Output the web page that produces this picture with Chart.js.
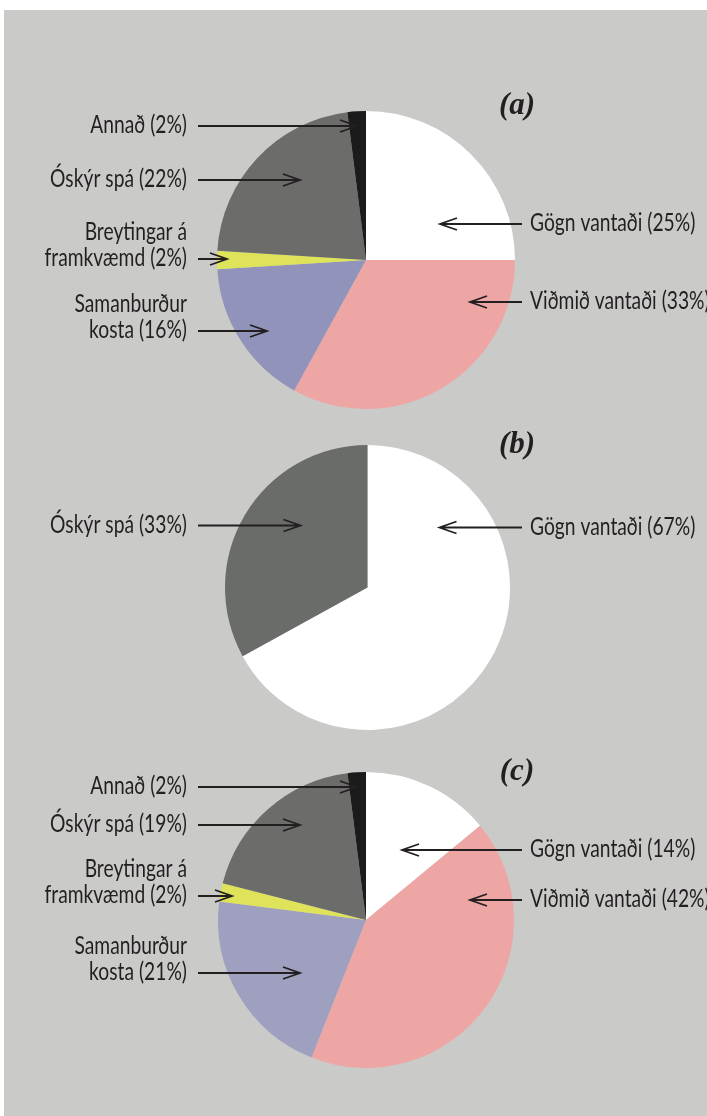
<!DOCTYPE html>
<html>
<head>
<meta charset="utf-8">
<script src="https://cdn.jsdelivr.net/npm/chart.js@4"></script>
<style>
  html, body { margin: 0; padding: 0; background: #fff; }
  body { width: 707px; height: 1116px; position: relative; overflow: hidden; }
  .bg { position: absolute; left: 4px; top: 10px; right: 0; bottom: 0; background: #cacac8; }
  canvas { position: absolute; left: 0; top: 0; }
</style>
</head>
<body>
<div class="bg"></div>
<canvas id="pieA" width="707" height="1116"></canvas>
<canvas id="pieB" width="707" height="1116"></canvas>
<canvas id="pieC" width="707" height="1116"></canvas>
<script>
// data
const labelsA = ['Gögn vantaði', 'Viðmið vantaði', 'Samanburður\nkosta', 'Breytingar á\nframkvæmd', 'Óskýr spá', 'Annað'];
const valuesA = [25, 33, 16, 2, 22, 2];
const labelsB = ['Gögn vantaði', 'Óskýr spá'];
const valuesB = [67, 33];
const labelsC = ['Gögn vantaði', 'Viðmið vantaði', 'Samanburður\nkosta', 'Breytingar á\nframkvæmd', 'Óskýr spá', 'Annað'];
const valuesC = [14, 42, 21, 2, 19, 2];

const colorsA = ['#ffffff', '#eea6a4', '#9193bb', '#dee35a', '#6c6c6a', '#1b1b1b'];
const colorsB = ['#ffffff', '#6a6c69'];
const colorsC = ['#ffffff', '#eea6a4', '#9fa0c0', '#dee35a', '#6c6c6a', '#1b1b1b'];

// callout layout: side, dy of arrow line from pie centre, tip dx from centre
const calloutsA = [
  { side: 'right', dy: -36, tip: 74 },
  { side: 'right', dy: 42, tip: 104 },
  { side: 'left', dy: 71, tip: -99 },
  { side: 'left', dy: -1, tip: -139 },
  { side: 'left', dy: -80, tip: -66 },
  { side: 'left', dy: -134, tip: -9 }
];
const calloutsB = [
  { side: 'right', dy: -60, tip: 72 },
  { side: 'left', dy: -62, tip: -67 }
];
const calloutsC = [
  { side: 'right', dy: -70, tip: 36 },
  { side: 'right', dy: -20, tip: 104 },
  { side: 'left', dy: 53, tip: -66 },
  { side: 'left', dy: -24, tip: -134 },
  { side: 'left', dy: -95, tip: -66 },
  { side: 'left', dy: -133, tip: -9 }
];

const textColor = '#231f20';
const labelFont = '25px Lato, "Open Sans", sans-serif';
const squeeze = 0.77; // condensed look
const titleFont = 'italic bold 31px "Liberation Serif", "DejaVu Serif", serif';

function drawArrow(ctx, x0, x1, y) {
  const dir = x1 > x0 ? 1 : -1;
  ctx.beginPath();
  ctx.moveTo(x0, y);
  ctx.lineTo(x1, y);
  ctx.moveTo(x1 - dir * 17, y - 6);
  ctx.lineTo(x1, y);
  ctx.lineTo(x1 - dir * 17, y + 6);
  ctx.stroke();
}

function narrowText(ctx, text, x, y, align) {
  const w = ctx.measureText(text).width * squeeze;
  const left = align === 'right' ? x - w : x;
  ctx.save();
  ctx.translate(left, y);
  ctx.scale(squeeze, 1);
  ctx.textAlign = 'left';
  ctx.fillText(text, 0, 0);
  ctx.restore();
}

const calloutPlugin = {
  id: 'callouts',
  afterDraw(chart, args, opts) {
    const ctx = chart.ctx;
    const arc = chart.getDatasetMeta(0).data[0];
    const cx = arc.x, cy = arc.y;
    const labels = chart.data.labels;
    const values = chart.data.datasets[0].data;
    ctx.save();
    ctx.strokeStyle = textColor;
    ctx.fillStyle = textColor;
    ctx.lineWidth = 1.8;
    ctx.font = labelFont;
    ctx.textBaseline = 'alphabetic';
    opts.items.forEach((c, i) => {
      const y = cy + c.dy;
      const lines = labels[i].split('\n');
      lines[lines.length - 1] += ' (' + values[i] + '%)';
      const n = lines.length;
      if (c.side === 'left') {
        lines.forEach((t, k) => narrowText(ctx, t, 187, y + 7 - (n - 1 - k) * 26, 'right'));
        drawArrow(ctx, 198, cx + c.tip, y);
      } else {
        lines.forEach((t, k) => narrowText(ctx, t, 530, y + 7 - (n - 1 - k) * 26, 'left'));
        drawArrow(ctx, 522, cx + c.tip, y);
      }
    });
    ctx.font = titleFont;
    ctx.textAlign = 'center';
    ctx.textBaseline = 'middle';
    ctx.fillText(opts.title, 517, cy + opts.titleDy);
    ctx.restore();
  }
};

function makePie(id, labels, values, colors, callouts, title, titleDy, padding) {
  return new Chart(document.getElementById(id), {
    type: 'pie',
    data: {
      labels: labels,
      datasets: [{
        data: values,
        backgroundColor: colors,
        borderWidth: 0
      }]
    },
    options: {
      responsive: false,
      maintainAspectRatio: false,
      animation: false,
      devicePixelRatio: 1,
      layout: { padding: padding },
      events: [],
      plugins: {
        legend: { display: false },
        tooltip: { enabled: false },
        callouts: { items: callouts, title: title, titleDy: titleDy }
      }
    },
    plugins: [calloutPlugin]
  });
}

makePie('pieA', labelsA, valuesA, colorsA, calloutsA, '(a)', -154,
  { left: 217, right: 192, top: 111, bottom: 707 });
makePie('pieB', labelsB, valuesB, colorsB, calloutsB, '(b)', -143,
  { left: 225, right: 197, top: 445, bottom: 386 });
makePie('pieC', labelsC, valuesC, colorsC, calloutsC, '(c)', -148,
  { left: 218, right: 193, top: 772, bottom: 48 });
</script>
</body>
</html>
